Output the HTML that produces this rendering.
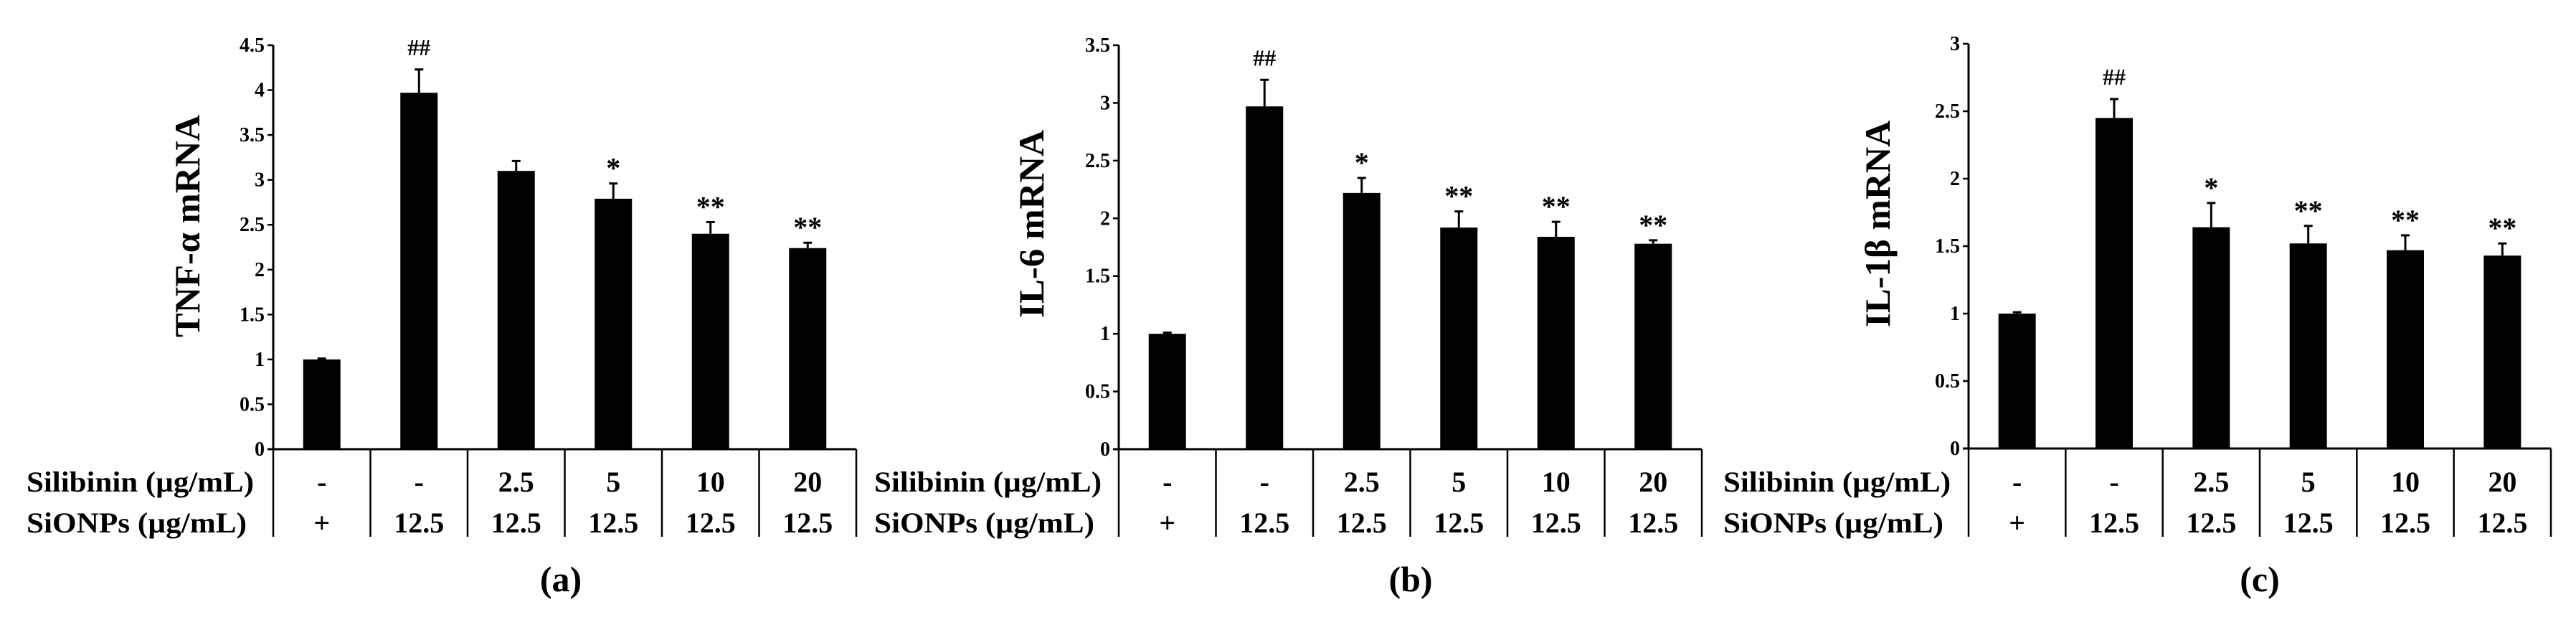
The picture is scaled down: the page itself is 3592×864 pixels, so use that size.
<!DOCTYPE html>
<html><head><meta charset="utf-8"><style>
html,body{margin:0;padding:0;background:#fff;}
svg{display:block;}
text{font-family:"Liberation Serif",serif;font-weight:bold;fill:#000;}
</style></head><body>
<svg id="fig" width="3592" height="864" viewBox="0 0 3592 864" xmlns="http://www.w3.org/2000/svg"></svg>
<script>
const categoriesSilibinin = ["-", "-", "2.5", "5", "10", "20"];
const categoriesSiONPs = ["+", "12.5", "12.5", "12.5", "12.5", "12.5"];
const tnfValues = [1.0, 3.97, 3.1, 2.79, 2.4, 2.24];
const tnfErrors = [0.01, 0.26, 0.11, 0.17, 0.13, 0.06];
const tnfMarks = ["", "##", "", "*", "**", "**"];
const tnfTicks = ["0", "0.5", "1", "1.5", "2", "2.5", "3", "3.5", "4", "4.5"];
const il6Values = [1.0, 2.97, 2.22, 1.92, 1.84, 1.78];
const il6Errors = [0.01, 0.23, 0.13, 0.14, 0.13, 0.03];
const il6Marks = ["", "##", "*", "**", "**", "**"];
const il6Ticks = ["0", "0.5", "1", "1.5", "2", "2.5", "3", "3.5"];
const il1bValues = [1.0, 2.45, 1.64, 1.52, 1.47, 1.43];
const il1bErrors = [0.01, 0.14, 0.18, 0.13, 0.11, 0.09];
const il1bMarks = ["", "##", "*", "**", "**", "**"];
const il1bTicks = ["0", "0.5", "1", "1.5", "2", "2.5", "3"];

const NS = "http://www.w3.org/2000/svg";
const svg = document.getElementById("fig");
function mk(tag, attrs, parent, txt) {
  const e = document.createElementNS(NS, tag);
  for (const k in attrs) e.setAttribute(k, attrs[k]);
  if (txt !== undefined) e.textContent = txt;
  (parent || svg).appendChild(e);
  return e;
}

const panels = [
  {id:"tnf", title:"TNF-α mRNA", letter:"(a)", values:tnfValues, errors:tnfErrors, marks:tnfMarks, ticks:tnfTicks,
   x0:381, x1:1194, y0:626, yTop:63, titleX:261, titleY:315, titleLen:310, rowX:37, letterX:782},
  {id:"il6", title:"IL-6 mRNA", letter:"(b)", values:il6Values, errors:il6Errors, marks:il6Marks, ticks:il6Ticks,
   x0:1560, x1:2373, y0:626, yTop:63, titleX:1438, titleY:312, titleLen:262, rowX:1219, letterX:1967},
  {id:"il1b", title:"IL-1β mRNA", letter:"(c)", values:il1bValues, errors:il1bErrors, marks:il1bMarks, ticks:il1bTicks,
   x0:2745, x1:3557, y0:625, yTop:61, titleX:2618, titleY:312, titleLen:288, rowX:2403, letterX:3151}
];

panels.forEach(p => {
  const g = mk("g", {});
  
  
  const maxV = parseFloat(p.ticks[p.ticks.length - 1]);
  const yScale = v => p.y0 - (v / maxV) * (p.y0 - p.yTop);
  const n = p.values.length;
  const gw = (p.x1 - p.x0) / n;
  const xCenter = i => p.x0 + gw * (i + 0.5);
  const tableBottom = 748;

  const ya = mk("line", {x1:p.x0, y1:p.yTop, x2:p.x0, y2:p.y0, stroke:"#000", "stroke-width":3}, g);
  
  
  p.ticks.forEach(t => {
    const y = yScale(parseFloat(t));
    mk("line", {x1:p.x0 - 8, y1:y, x2:p.x0, y2:y, stroke:"#000", "stroke-width":2.5}, g);
    const tl = mk("text", {x:p.x0 - 12, y:y + 9, "text-anchor":"end", "font-size":28}, g, t);
    
    
  });
  const xa = mk("line", {x1:p.x0 - 8, y1:p.y0, x2:p.x1, y2:p.y0, stroke:"#000", "stroke-width":3}, g);
  
  
  for (let i = 0; i <= n; i++) {
    const x = p.x0 + gw * i;
    mk("line", {x1:x, y1:p.y0, x2:x, y2:tableBottom, stroke:"#000", "stroke-width":2.5}, g);
  }
  const yt = mk("text", {x:p.titleX, y:p.titleY, "text-anchor":"middle", "font-size":50,
    textLength:p.titleLen, lengthAdjust:"spacingAndGlyphs",
    transform:"rotate(-90 " + p.titleX + " " + p.titleY + ") translate(0 17)"}, g, p.title);
  
  

  const bw = 52;
  p.values.forEach((v, i) => {
    const cx = xCenter(i);
    const top = yScale(v);
    const b = mk("rect", {x:cx - bw/2, y:top, width:bw, height:p.y0 - top, fill:"#000"}, g);
    
    
    const et = yScale(v + p.errors[i]);
    const eb = mk("line", {x1:cx, y1:top, x2:cx, y2:et, stroke:"#000", "stroke-width":3}, g);
    
    
    mk("line", {x1:cx - 6, y1:et, x2:cx + 6, y2:et, stroke:"#000", "stroke-width":3}, g);
    if (p.marks[i]) {
      const isHash = p.marks[i] === "##";
      const m = mk("text", {x:cx, y:et - (isHash ? 20 : 8), "text-anchor":"middle", "font-size":isHash ? 32 : 40, "font-weight":isHash ? "normal" : "bold"}, g, p.marks[i]);
      
      
    }
    const s1 = mk("text", {x:cx, y:685, "text-anchor":"middle", "font-size":40}, g, categoriesSilibinin[i]);
    
    
    const s2 = mk("text", {x:cx, y:742, "text-anchor":"middle", "font-size":40}, g, categoriesSiONPs[i]);
    
    
  });
  const r1 = mk("text", {x:p.rowX, y:685, "font-size":40, textLength:317, lengthAdjust:"spacingAndGlyphs"}, g, "Silibinin (µg/mL)");
  
  
  const r2 = mk("text", {x:p.rowX, y:742, "font-size":40, textLength:307, lengthAdjust:"spacingAndGlyphs"}, g, "SiONPs (µg/mL)");
  
  
  const lt = mk("text", {x:p.letterX, y:824, "text-anchor":"middle", "font-size":50}, g, p.letter);
  
  
});
</script>
</body></html>
